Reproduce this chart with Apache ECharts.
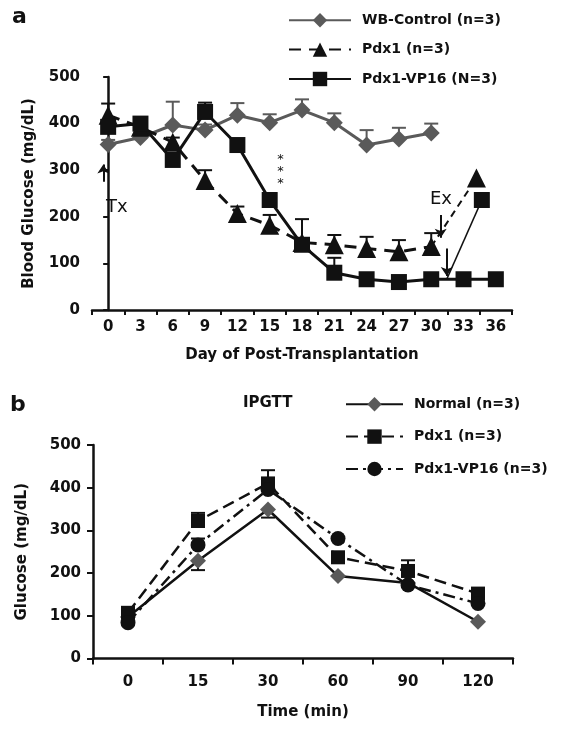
<!DOCTYPE html>
<html><head><meta charset="utf-8">
<script src="https://cdn.jsdelivr.net/npm/echarts@6/dist/echarts.min.js"></script>
<style>html,body{margin:0;padding:0;background:#fff}#c{width:562px;height:731px}</style>
</head><body><div id="c"></div>
<script>
// ---------- Panel a data ----------
const dayLabels = ['0','3','6','9','12','15','18','21','24','27','30','33','36'];
const ctrlDays = [0,3,6,9,12,15,18,21,24,27,30];
const ctrlVals = [355,370,397,386,418,402,429,402,354,367,380];
const ctrlErrTop = [365,382,447,398,444,420,452,422,386,391,400];
const pdxDays = [0,3,6,9,12,15,18,21,24,27,30];
const pdxVals = [418,392,360,278,207,182,145,140,132,125,136];
const pdxErrTop = [443,400,370,300,222,204,150,161,157,150,165];
const pdxExDays = [30,34.2];
const pdxExVals = [136,283];
const vpDays = [0,3,6,9,12,15,18,21,24,27,30,33,36];
const vpVals = [393,400,322,425,354,236,140,80,66,60,66,66,66];
const vpErrTop = [405,405,330,445,362,240,195,112,70,64,70,70,70];
const vpExDays = [31.44,34.7];
const vpExVals = [66,236];
// ---------- Panel b data ----------
const timeLabels = ['0','15','30','60','90','120'];
const normalVals = [97,229,349,193,177,86];
const normalErrLow = [97,207,330,193,177,86];
const pdxbVals = [107,322,410,237,205,152];
const pdxbErrTop = [107,341,441,237,230,160];
const vpbVals = [84,266,396,281,172,129];
const vpbErrTop = [84,281,396,281,172,129];

const FONT = 'DejaVu Sans';
const INK = '#111';
const GRAY = '#5a5a5a';

function zip(xs, ys){ return xs.map((x,i)=>[x, ys[i]]); }
function errData(xs, vals, ends){ return xs.map((x,i)=>[x, ends[i], vals[i]]); }
function errRender(color){
  return function(params, api){
    const x = api.value(0), end = api.value(1), base = api.value(2);
    if (end === base) return null;
    const p1 = api.coord([x, base]), p2 = api.coord([x, end]);
    const w = 7;
    return {type:'group', children:[
      {type:'line', shape:{x1:p1[0],y1:p1[1],x2:p2[0],y2:p2[1]}, style:{stroke:color,lineWidth:2}},
      {type:'line', shape:{x1:p2[0]-w,y1:p2[1],x2:p2[0]+w,y2:p2[1]}, style:{stroke:color,lineWidth:2}}
    ]};
  };
}
function errSeries(xi, yi, data, color){
  return {type:'custom', xAxisIndex:xi, yAxisIndex:yi, data:data, encode:{x:0,y:1},
    renderItem: errRender(color), z:1, silent:true};
}

const labelStyle = {fontFamily:FONT, fontWeight:'bold', fontSize:15, color:INK};
const axisLineStyle = {lineStyle:{color:INK, width:2.5}};

const chart = echarts.init(document.getElementById('c'), null, {renderer:'canvas'});
chart.setOption({
  animation:false,
  backgroundColor:'#fff',
  grid:[
    {left:92, top:77, width:420, height:233},
    {left:93, top:445, width:420, height:213.5}
  ],
  xAxis:[
    {gridIndex:0, type:'category', data:dayLabels, boundaryGap:true,
     axisLine:axisLineStyle, axisTick:{show:true, length:5, lineStyle:{color:INK,width:2}},
     axisLabel:Object.assign({margin:10}, labelStyle),
     name:'Day of Post-Transplantation', nameLocation:'middle', nameGap:38,
     nameTextStyle:{fontFamily:FONT, fontWeight:'bold', fontSize:15, color:INK},
     splitLine:{show:false}},
    {gridIndex:0, type:'value', min:-1.5, max:37.5, show:false},
    {gridIndex:1, type:'category', data:timeLabels, boundaryGap:true,
     axisLine:axisLineStyle, axisTick:{show:true, length:6, lineStyle:{color:INK,width:2}},
     axisLabel:Object.assign({margin:16}, labelStyle),
     name:'Time (min)', nameLocation:'middle', nameGap:46,
     nameTextStyle:{fontFamily:FONT, fontWeight:'bold', fontSize:15, color:INK},
     splitLine:{show:false}}
  ],
  yAxis:[
    {gridIndex:0, type:'value', min:0, max:500, interval:100,
     axisLine:{show:true, lineStyle:{color:INK,width:2.5}},
     axisTick:{show:true, length:5, lineStyle:{color:INK,width:2}},
     axisLabel:Object.assign({margin:12}, labelStyle), splitLine:{show:false},
     name:'Blood Glucose (mg/dL)', nameLocation:'middle', nameGap:55,
     nameTextStyle:{fontFamily:FONT, fontWeight:'bold', fontSize:15, color:INK}},
    {gridIndex:1, type:'value', min:0, max:500, interval:100,
     axisLine:{show:true, lineStyle:{color:INK,width:2.5}},
     axisTick:{show:true, length:6, lineStyle:{color:INK,width:2}},
     axisLabel:Object.assign({margin:12}, labelStyle), splitLine:{show:false},
     name:'Glucose (mg/dL)', nameLocation:'middle', nameGap:63,
     nameTextStyle:{fontFamily:FONT, fontWeight:'bold', fontSize:15, color:INK}}
  ],
  legend:[
    {orient:'vertical', left:283, top:8, itemWidth:62, itemHeight:18, itemGap:15,
     data:['WB-Control (n=3)','Pdx1 (n=3)','Pdx1-VP16 (N=3)'],
     textStyle:{fontFamily:FONT, fontWeight:'bold', fontSize:14, color:INK, padding:[0,0,0,6]}},
    {orient:'vertical', left:340, top:392, itemWidth:57, itemHeight:18, itemGap:18,
     data:['Normal (n=3)','Pdx1 (n=3) ','Pdx1-VP16 (n=3)'],
     textStyle:{fontFamily:FONT, fontWeight:'bold', fontSize:14, color:INK, padding:[0,0,0,6]}}
  ],
  graphic:[
    {type:'text', left:12, top:6, style:{text:'a', font:'bold 22px "DejaVu Sans"', fill:INK}},
    {type:'text', left:10, top:394, style:{text:'b', font:'bold 22px "DejaVu Sans"', fill:INK}},
    {type:'text', left:243, top:396, style:{text:'IPGTT', font:'bold 15px "DejaVu Sans"', fill:INK}}
  ],
  series:[
    errSeries(1,0, errData(ctrlDays, ctrlVals, ctrlErrTop), GRAY),
    errSeries(1,0, errData(pdxDays, pdxVals, pdxErrTop), INK),
    errSeries(1,0, errData(vpDays, vpVals, vpErrTop), INK),
    {type:'line', name:'WB-Control (n=3)', xAxisIndex:1, yAxisIndex:0, data:zip(ctrlDays, ctrlVals),
     symbol:'diamond', symbolSize:17, itemStyle:{color:GRAY}, lineStyle:{color:GRAY, width:3}, z:3},
    {type:'line', name:'Pdx1 (n=3)', xAxisIndex:1, yAxisIndex:0, data:zip(pdxDays, pdxVals),
     symbol:'triangle', symbolSize:19, itemStyle:{color:INK}, lineStyle:{color:INK, width:3, type:[12,8]}, z:4},
    {type:'line', name:'pdx-ex', xAxisIndex:1, yAxisIndex:0,
     data:zip(pdxExDays, pdxExVals).map((d,i)=> i===0 ? {value:d, symbol:'none'} : d),
     symbol:'triangle', symbolSize:19, itemStyle:{color:INK}, lineStyle:{color:INK, width:2, type:[7,5]}, z:4},
    {type:'line', name:'Pdx1-VP16 (N=3)', xAxisIndex:1, yAxisIndex:0, data:zip(vpDays, vpVals),
     symbol:'rect', symbolSize:16, itemStyle:{color:INK}, lineStyle:{color:INK, width:3}, z:5,
     markLine:{silent:true, symbol:['none','arrow'], symbolSize:9, label:{show:false},
       lineStyle:{color:INK, width:2, type:'solid'},
       data:[
         [{coord:[-0.45,275]},{coord:[-0.45,312]}],
         [{coord:[30.88,204]},{coord:[30.88,155]}],
         [{coord:[31.44,132]},{coord:[31.44,73]}]
       ]},
     markPoint:{silent:true, symbol:'circle', symbolSize:1, itemStyle:{color:'rgba(0,0,0,0)'},
       label:{show:true, position:'inside', color:INK, fontFamily:FONT, fontSize:18},
       data:[
         {coord:[0.8,221], label:{formatter:'Tx'}},
         {coord:[30.9,237], label:{formatter:'Ex'}},
         {coord:[16,296], label:{formatter:'*\n*\n*', fontSize:13, lineHeight:12}}
       ]}},
    {type:'line', name:'vp-ex', xAxisIndex:1, yAxisIndex:0,
     data:zip(vpExDays, vpExVals).map((d,i)=> i===0 ? {value:d, symbol:'none'} : d),
     symbol:'rect', symbolSize:16, itemStyle:{color:INK}, lineStyle:{color:INK, width:1.6}, z:5},
    // panel b
    errSeries(2,1, errData([0,1,2,3,4,5], normalVals, normalErrLow), INK),
    errSeries(2,1, errData([0,1,2,3,4,5], pdxbVals, pdxbErrTop), INK),
    errSeries(2,1, errData([0,1,2,3,4,5], vpbVals, vpbErrTop), INK),
    {type:'line', name:'Normal (n=3)', xAxisIndex:2, yAxisIndex:1, data:normalVals,
     symbol:'diamond', symbolSize:16, itemStyle:{color:GRAY}, lineStyle:{color:INK, width:2.5}, z:3},
    {type:'line', name:'Pdx1 (n=3) ', xAxisIndex:2, yAxisIndex:1, data:pdxbVals,
     symbol:'rect', symbolSize:14, itemStyle:{color:INK}, lineStyle:{color:INK, width:2.5, type:[12,6]}, z:4},
    {type:'line', name:'Pdx1-VP16 (n=3)', xAxisIndex:2, yAxisIndex:1, data:vpbVals,
     symbol:'circle', symbolSize:15, itemStyle:{color:INK}, lineStyle:{color:INK, width:2.5, type:[12,5,3,5]}, z:4}
  ]
});
</script></body></html>
